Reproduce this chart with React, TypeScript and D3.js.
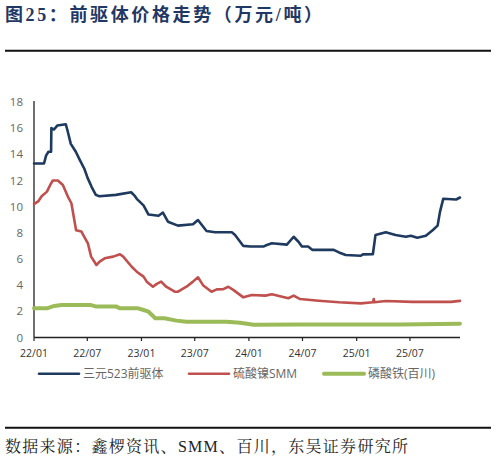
import * as d3 from "d3";

// 三元523前驱体 (万元/吨)
const ncmDates = [
  "2022-01-01", "2022-02-04", "2022-02-11", "2022-02-19", "2022-02-28", "2022-03-01", "2022-03-10",
  "2022-03-21", "2022-04-19", "2022-04-25", "2022-05-06", "2022-05-23", "2022-06-05", "2022-06-21",
  "2022-07-02", "2022-07-16", "2022-07-30", "2022-08-11", "2022-10-06", "2022-11-27", "2022-12-10",
  "2022-12-16", "2023-01-08", "2023-01-25", "2023-02-28", "2023-03-15", "2023-04-01", "2023-05-05",
  "2023-06-25", "2023-07-12", "2023-08-10", "2023-09-08", "2023-11-04", "2023-11-15", "2023-12-13",
  "2024-01-06", "2024-02-19", "2024-03-02", "2024-03-19", "2024-05-09", "2024-06-01", "2024-06-18",
  "2024-06-29", "2024-07-20", "2024-08-03", "2024-10-15", "2024-11-02", "2024-11-25", "2025-01-15",
  "2025-01-22", "2025-02-25", "2025-03-06", "2025-04-10", "2025-05-13", "2025-06-17", "2025-07-04",
  "2025-07-26", "2025-08-24", "2025-09-16", "2025-10-03", "2025-10-11", "2025-10-22", "2025-12-05",
  "2025-12-18",
];
const ncmValues = [
  13.3, 13.3, 13.9, 14.2, 14.2, 16.0, 15.9,
  16.2, 16.3, 15.8, 14.8, 14.2, 13.6, 12.9,
  12.2, 11.5, 10.9, 10.8, 10.9, 11.1, 10.8,
  10.6, 10.1, 9.4, 9.3, 9.55, 8.85, 8.55,
  8.65, 8.98, 8.14, 8.04, 8.04, 7.84, 7.0,
  6.95, 6.95, 7.07, 7.2, 7.1, 7.7, 7.3,
  6.95, 6.95, 6.7, 6.7, 6.5, 6.3, 6.25,
  6.35, 6.36, 7.84, 8.04, 7.84, 7.7, 7.78,
  7.63, 7.78, 8.2, 8.55, 9.6, 10.6, 10.55,
  10.7,
];

// 硫酸镍SMM
const nickelDates = [
  "2022-01-01", "2022-01-15", "2022-01-27", "2022-02-14", "2022-02-25", "2022-03-06", "2022-03-23",
  "2022-04-09", "2022-04-26", "2022-05-08", "2022-05-24", "2022-06-11", "2022-07-03", "2022-07-14",
  "2022-08-01", "2022-08-12", "2022-08-29", "2022-09-27", "2022-10-20", "2022-10-31", "2022-11-29",
  "2022-12-16", "2023-01-08", "2023-01-19", "2023-02-09", "2023-02-22", "2023-03-09", "2023-03-26",
  "2023-04-24", "2023-05-05", "2023-06-03", "2023-06-25", "2023-07-12", "2023-07-29", "2023-08-27",
  "2023-09-14", "2023-10-06", "2023-10-23", "2023-11-10", "2023-12-13", "2024-01-11", "2024-02-26",
  "2024-03-19", "2024-05-14", "2024-06-01", "2024-06-23", "2024-08-25", "2024-11-02", "2025-01-15",
  "2025-02-25", "2025-02-28", "2025-03-02", "2025-04-10", "2025-07-09", "2025-11-17", "2025-12-18",
];
const nickelValues = [
  10.2, 10.4, 10.8, 11.15, 11.66, 12.0, 12.0,
  11.66, 10.77, 10.26, 8.2, 8.1, 7.2, 6.18,
  5.54, 5.8, 6.05, 6.18, 6.36, 6.18, 5.41,
  5.03, 4.65, 4.27, 3.88, 4.1, 4.27, 3.88,
  3.5, 3.5, 3.88, 4.27, 4.6, 4.0, 3.5,
  3.68, 3.7, 3.88, 3.62, 3.07, 3.25, 3.2,
  3.3, 3.0, 3.2, 2.94, 2.81, 2.69, 2.61,
  2.69, 2.94, 2.7, 2.79, 2.72, 2.72, 2.8,
];

// 磷酸铁(百川)
const fepDates = [
  "2022-01-01", "2022-02-14", "2022-03-11", "2022-04-04", "2022-07-14", "2022-08-01", "2022-10-08",
  "2022-10-20", "2022-12-21", "2023-01-08", "2023-01-25", "2023-02-17", "2023-03-20", "2023-04-30",
  "2023-06-03", "2023-10-17", "2023-12-02", "2024-01-17", "2024-06-23", "2025-05-29", "2025-12-18",
];
const fepValues = [
  2.23, 2.23, 2.41, 2.48, 2.48, 2.36, 2.36,
  2.23, 2.23, 2.1, 1.97, 1.47, 1.47, 1.29,
  1.21, 1.21, 1.13, 0.98, 1.0, 1.0, 1.06,
];

const yTicks = [0, 2, 4, 6, 8, 10, 12, 14, 16, 18];
const xTickDates = ["2022-01-01", "2022-07-01", "2023-01-01", "2023-07-01", "2024-01-01", "2024-07-01", "2025-01-01", "2025-07-01"];

const seriesNames = ["三元523前驱体", "硫酸镍SMM", "磷酸铁(百川)"];
const seriesColors = ["#1f3a5f", "#c0504d", "#9bbb59"];
const seriesWidths = [2.6, 2.6, 4];

const parse = d3.timeParse("%Y-%m-%d");
const fmt = d3.timeFormat("%y/%m");

const W = 496;
const H = 469;

export default function App() {
  const x = d3
    .scaleTime()
    .domain([parse("2022-01-01")!, parse("2025-12-18")!])
    .range([34, 460]);
  const y = d3.scaleLinear().domain([0, 18]).range([337.5, 102]);

  const series = [
    { dates: ncmDates, values: ncmValues },
    { dates: nickelDates, values: nickelValues },
    { dates: fepDates, values: fepValues },
  ].map((s) => s.dates.map((d, i) => ({ date: parse(d)!, value: s.values[i] })));

  const line = d3
    .line<{ date: Date; value: number }>()
    .x((d) => x(d.date))
    .y((d) => y(d.value));

  const legendX = [39, 189, 324];

  return (
    <div style={{ position: "absolute", left: 0, top: 0 }}>
      <svg width={W} height={H} style={{ display: "block", background: "#fff" }}>
        <text
          x={5}
          y={21}
          fontFamily="'Liberation Serif', 'Noto Sans CJK SC'"
          fontWeight="bold"
          fontSize={18}
          fill="#1f3864"
          textLength={317}
          lengthAdjust="spacing"
        >
          图25：前驱体价格走势（万元/吨）
        </text>
        <line x1={5} x2={491} y1={50.7} y2={50.7} stroke="#111" strokeWidth={2} />

        {/* y axis */}
        <line x1={34} x2={34} y1={101} y2={337.5} stroke="#222" strokeWidth={1.3} />
        {yTicks.map((t) => (
          <text
            key={t}
            x={23}
            y={y(t)}
            dy="0.35em"
            textAnchor="end"
            fontFamily="'Open Sans', 'Noto Sans'"
            fontSize={11.5}
            fill="#666"
          >
            {t}
          </text>
        ))}

        {/* x axis */}
        <line x1={34} x2={460} y1={337.5} y2={337.5} stroke="#222" strokeWidth={1.3} />
        {xTickDates.map((d) => {
          const px = x(parse(d)!);
          return (
            <g key={d}>
              <line x1={px} x2={px} y1={337.5} y2={341} stroke="#222" strokeWidth={1.2} />
              <text
                x={px}
                y={353}
                dy="0.35em"
                textAnchor="middle"
                fontFamily="'Open Sans', 'Noto Sans'"
                fontSize={10.5}
                fill="#333"
              >
                {fmt(parse(d)!)}
              </text>
            </g>
          );
        })}

        {/* lines */}
        {series.map((s, i) => (
          <path
            key={seriesNames[i]}
            d={line(s) ?? ""}
            fill="none"
            stroke={seriesColors[i]}
            strokeWidth={seriesWidths[i]}
            strokeLinejoin="round"
            strokeLinecap="round"
          />
        ))}

        {/* legend */}
        {seriesNames.map((name, i) => (
          <g key={name} transform={`translate(${legendX[i]}, 373.7)`}>
            <line x1={0} x2={40} y1={0} y2={0} stroke={seriesColors[i]} strokeWidth={seriesWidths[i]} strokeLinecap="round" />
            <text
              x={44}
              y={0}
              dy="0.35em"
              fontFamily="'Open Sans', 'Noto Sans CJK SC'"
              fontSize={12}
              fill="#666"
            >
              {name}
            </text>
          </g>
        ))}

        <line x1={5} x2={491} y1={427.7} y2={427.7} stroke="#111" strokeWidth={2} />
        <text
          x={5}
          y={452}
          fontFamily="'Liberation Serif', 'Noto Serif CJK SC', 'Noto Sans CJK SC'"
          fontSize={16}
          fill="#222"
          textLength={403}
          lengthAdjust="spacing"
        >
          数据来源：鑫椤资讯、SMM、百川，东吴证券研究所
        </text>
      </svg>
    </div>
  );
}
